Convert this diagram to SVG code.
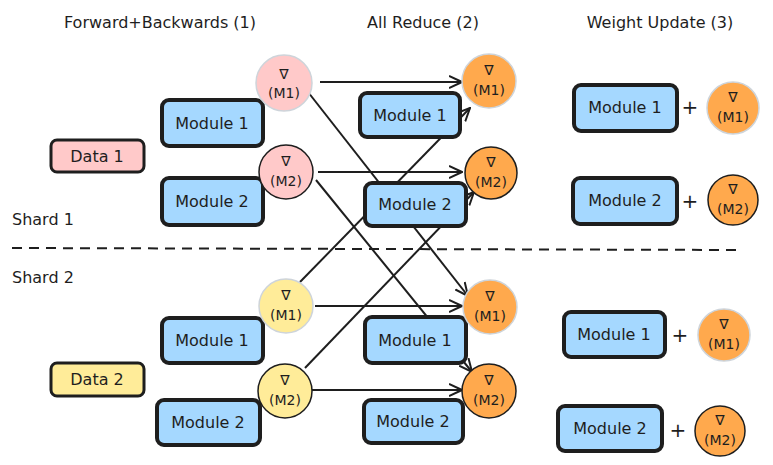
<svg xmlns="http://www.w3.org/2000/svg" width="773" height="465" viewBox="0 0 773 465">
<style>
text{font-family:"DejaVu Sans","Liberation Sans",sans-serif;fill:#1e1e1e}
.t{font-size:16px;text-anchor:middle}
.m{fill:#a5d8ff;stroke:#1e1e1e;stroke-width:4}
.c{stroke:#ced4da;stroke-width:1.5}
.pk{fill:#ffc9c9}.yl{fill:#ffec99}.or{fill:#ffa94d}
.g{font-size:14px;text-anchor:middle}
.e{stroke:#1e1e1e;stroke-width:2;fill:none;marker-end:url(#a)}
</style>
<defs>
<marker id="a" viewBox="0 0 14 14" refX="13" refY="7" markerWidth="14" markerHeight="14" markerUnits="userSpaceOnUse" orient="auto"><path d="M0,1 L13,7 L0,13" fill="none" stroke="#1e1e1e" stroke-width="2"/></marker>
<g id="grad"><text class="g" y="-4">∇</text><text class="g" y="14">(M1)</text></g>
</defs>
<rect width="773" height="465" fill="#fff"/>
<text class="t" x="160" y="28">Forward+Backwards (1)</text>
<text class="t" x="423" y="28">All Reduce (2)</text>
<text class="t" x="660" y="28">Weight Update (3)</text>
<text x="12" y="225" style="font-size:16px">Shard 1</text>
<text x="12" y="283" style="font-size:16px">Shard 2</text>
<line x1="12" y1="248" x2="740" y2="250" stroke="#1e1e1e" stroke-width="2" stroke-dasharray="10 7"/>
<g id="connectors">
<path class="e" d="M320,82 L462,82"/>
<path class="e" d="M308,92 L468,296"/>
<path class="e" d="M318,172 L462,172"/>
<path class="e" d="M316,180 L472,372"/>
<path class="e" d="M300,282 L470,108"/>
<path class="e" d="M305,368 L474,192"/>
<path class="e" d="M315,306 L462,306"/>
<path class="e" d="M312,390 L462,390"/>
</g>
<g id="data1"><rect x="51" y="140" width="93" height="32" rx="6" fill="#ffc9c9" stroke="#1e1e1e" stroke-width="3"/><text class="t" x="97" y="162">Data 1</text></g>
<g id="data2"><rect x="51" y="363" width="93" height="33" rx="6" fill="#ffec99" stroke="#1e1e1e" stroke-width="3"/><text class="t" x="97" y="385">Data 2</text></g>
<g id="s1m1"><rect class="m" x="162" y="100" width="101" height="46" rx="7"/><text class="t" x="212" y="129">Module 1</text></g>
<g id="s1m2"><rect class="m" x="162" y="178" width="101" height="47" rx="7"/><text class="t" x="212" y="207">Module 2</text></g>
<g id="s2m1"><rect class="m" x="162" y="318" width="101" height="45" rx="7"/><text class="t" x="212" y="346">Module 1</text></g>
<g id="s2m2"><rect class="m" x="157" y="400" width="103" height="45" rx="7"/><text class="t" x="208" y="428">Module 2</text></g>
<g id="a1m1"><rect class="m" x="360" y="93" width="100" height="44" rx="7"/><text class="t" x="410" y="121">Module 1</text></g>
<g id="a1m2"><rect class="m" x="365" y="183" width="101" height="43" rx="7"/><text class="t" x="415" y="210">Module 2</text></g>
<g id="a2m1"><rect class="m" x="365" y="317" width="101" height="46" rx="7"/><text class="t" x="415" y="346">Module 1</text></g>
<g id="a2m2"><rect class="m" x="364" y="400" width="99" height="43" rx="7"/><text class="t" x="413" y="427">Module 2</text></g>
<g id="w1m1"><rect class="m" x="574" y="85" width="103" height="46" rx="7"/><text class="t" x="625" y="113">Module 1</text></g>
<g id="w1m2"><rect class="m" x="573" y="178" width="104" height="46" rx="7"/><text class="t" x="625" y="206">Module 2</text></g>
<g id="w2m1"><rect class="m" x="564" y="312" width="101" height="45" rx="7"/><text class="t" x="614" y="340">Module 1</text></g>
<g id="w2m2"><rect class="m" x="558" y="406" width="104" height="45" rx="7"/><text class="t" x="610" y="434">Module 2</text></g>
<g id="g-p1"><circle class="c pk" cx="284" cy="83" r="28"/><text class="g" x="284" y="79">∇</text><text class="g" x="284" y="98">(M1)</text></g>
<g id="g-p2"><circle class="pk" stroke="#1e1e1e" stroke-width="1.5" cx="286" cy="172" r="27"/><text class="g" x="286" y="166">∇</text><text class="g" x="286" y="186">(M2)</text></g>
<g id="g-y1"><circle class="c yl" cx="286" cy="306" r="27"/><text class="g" x="286" y="300">∇</text><text class="g" x="286" y="320">(M1)</text></g>
<g id="g-y2"><circle class="yl" stroke="#1e1e1e" stroke-width="1.5" cx="285" cy="391" r="27"/><text class="g" x="285" y="385">∇</text><text class="g" x="285" y="405">(M2)</text></g>
<g id="g-o1"><circle class="c or" cx="489" cy="81" r="27"/><text class="g" x="489" y="75">∇</text><text class="g" x="489" y="95">(M1)</text></g>
<g id="g-o2"><circle class="or" stroke="#1e1e1e" stroke-width="1.5" cx="491" cy="173" r="26"/><text class="g" x="491" y="167">∇</text><text class="g" x="491" y="187">(M2)</text></g>
<g id="g-o3"><circle class="c or" cx="490" cy="307" r="27"/><text class="g" x="490" y="301">∇</text><text class="g" x="490" y="321">(M1)</text></g>
<g id="g-o4"><circle class="or" stroke="#1e1e1e" stroke-width="1.5" cx="489" cy="391" r="27"/><text class="g" x="489" y="385">∇</text><text class="g" x="489" y="405">(M2)</text></g>
<text class="t" x="690" y="114" style="font-size:20px">+</text>
<text class="t" x="690" y="208" style="font-size:20px">+</text>
<text class="t" x="680" y="342" style="font-size:20px">+</text>
<text class="t" x="678" y="437" style="font-size:20px">+</text>
<g id="g-r1"><circle class="c or" cx="733" cy="108" r="26"/><text class="g" x="733" y="102">∇</text><text class="g" x="733" y="122">(M1)</text></g>
<g id="g-r2"><circle class="or" stroke="#1e1e1e" stroke-width="1.5" cx="733" cy="200" r="25"/><text class="g" x="733" y="194">∇</text><text class="g" x="733" y="214">(M2)</text></g>
<g id="g-r3"><circle class="c or" cx="724" cy="335" r="26"/><text class="g" x="724" y="329">∇</text><text class="g" x="724" y="349">(M1)</text></g>
<g id="g-r4"><circle class="or" stroke="#1e1e1e" stroke-width="1.5" cx="720" cy="431" r="25"/><text class="g" x="720" y="425">∇</text><text class="g" x="720" y="445">(M2)</text></g>
</svg>
